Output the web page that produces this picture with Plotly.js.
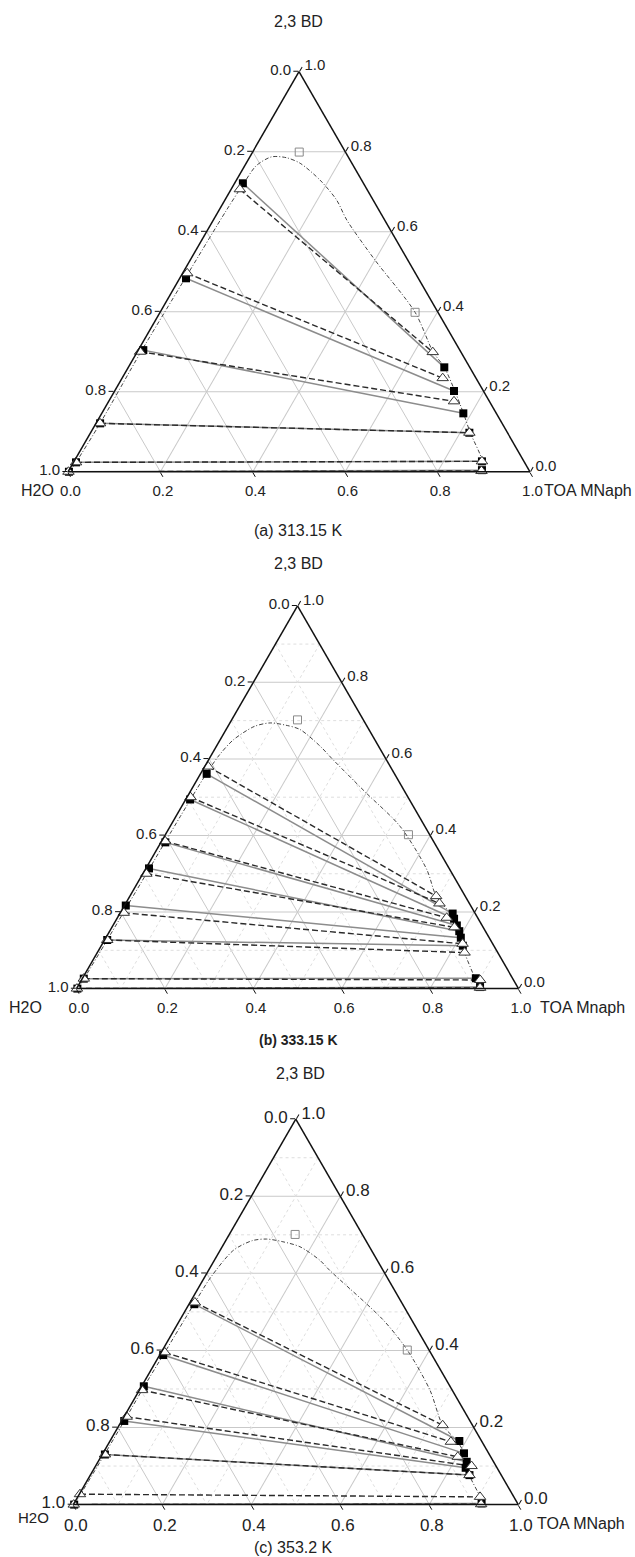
<!DOCTYPE html>
<html><head><meta charset="utf-8">
<script src="https://cdn.plot.ly/plotly-3.0.1.min.js"></script>
<style>html,body{margin:0;padding:0;background:#fff}#chart{width:635px;height:1557px}</style>
</head><body><div id="chart"></div>
<script>
// ---------- data (mass fractions: BD = 2,3-butanediol, TOA = TOA MNaph, H2O = remainder) ----------
// Tick labels
const tickVals = [0, 0.2, 0.4, 0.6, 0.8, 1.0];
const tickText = ['1.0', '0.8', '0.6', '0.4', '0.2', '0.0'];
const minorVals = [0.1, 0.3, 0.5, 0.7, 0.9];

// (a) 313.15 K
const A_binBD  = [0, 0.0235, 0.121, 0.30, 0.49, 0.65, 0.72, 0.765, 0.787, 0.785, 0.771, 0.729, 0.679, 0.629, 0.529, 0.3985, 0.30, 0.261, 0.20, 0.146, 0.0975, 0.026, 0];
const A_binTOA = [0.004, 0.0056, 0.009, 0.008, 0.012, 0.016, 0.02, 0.025, 0.047, 0.08, 0.117, 0.181, 0.242, 0.289, 0.40, 0.552, 0.64, 0.684, 0.738, 0.783, 0.822, 0.884, 0.895];
const A_expLBD  = [0.721, 0.4835, 0.304, 0.121, 0.0235, 0];
const A_expLTOA = [0.018, 0.0137, 0.011, 0.009, 0.0056, 0.002];
const A_expRBD  = [0.261, 0.2018, 0.146, 0.0975, 0.026, 0.004];
const A_expRTOA = [0.684, 0.7346, 0.7827, 0.82, 0.883, 0.894];
const A_calLBD  = [0.706, 0.496, 0.300, 0.121, 0.0235, 0];
const A_calLTOA = [0.019, 0.010, 0.006, 0.0088, 0.0056, 0.001];
const A_calRBD  = [0.299, 0.234, 0.176, 0.0975, 0.026, 0.002];
const A_calRTOA = [0.640, 0.694, 0.7475, 0.82, 0.883, 0.894];
const A_sqBD  = [0.799, 0.3985];
const A_sqTOA = [0.101, 0.552];

// (b) 333.15 K
const B_binBD  = [0, 0.026, 0.127, 0.30, 0.45, 0.56, 0.61, 0.65, 0.685, 0.694, 0.688, 0.677, 0.633, 0.599, 0.511, 0.424, 0.311, 0.2415, 0.19, 0.13, 0.094, 0.025, 0];
const B_binTOA = [0.003, 0.004, 0.006, 0.008, 0.010, 0.013, 0.018, 0.030, 0.06, 0.091, 0.13, 0.167, 0.235, 0.28, 0.40, 0.52, 0.637, 0.693, 0.755, 0.805, 0.831, 0.89, 0.913];
const B_expLBD  = [0.561, 0.494, 0.382, 0.314, 0.217, 0.127, 0.026, 0];
const B_expLTOA = [0.014, 0.010, 0.010, 0.007, 0.003, 0.006, 0.0035, 0.002];
const B_expRBD  = [0.196, 0.1825, 0.165, 0.150, 0.133, 0.112, 0.027, 0.004];
const B_expRTOA = [0.753, 0.763, 0.778, 0.791, 0.803, 0.818, 0.890, 0.911];
const B_calLBD  = [0.580, 0.50, 0.385, 0.300, 0.198, 0.127, 0.026, 0];
const B_calLTOA = [0.008, 0.008, 0.008, 0.008, 0.008, 0.006, 0.0035, 0.001];
const B_calRBD  = [0.2415, 0.2224, 0.185, 0.160, 0.117, 0.094, 0.0225, 0.002];
const B_calRTOA = [0.693, 0.710, 0.745, 0.775, 0.815, 0.831, 0.902, 0.912];
const B_sqBD  = [0.702, 0.402];
const B_sqTOA = [0.149, 0.550];

// (c) 353.2 K
const C_binBD  = [0, 0.027, 0.13, 0.22, 0.307, 0.39, 0.5245, 0.59, 0.66, 0.685, 0.689, 0.682, 0.669, 0.634, 0.608, 0.479, 0.401, 0.297, 0.206, 0.165, 0.13, 0.10, 0.0765, 0.02, 0];
const C_binTOA = [0.002, 0.003, 0.005, 0.006, 0.006, 0.008, 0.011, 0.014, 0.03, 0.06, 0.09, 0.13, 0.175, 0.237, 0.272, 0.457, 0.55, 0.653, 0.727, 0.78, 0.815, 0.838, 0.852, 0.904, 0.918];
const C_expLBD  = [0.52, 0.388, 0.307, 0.217, 0.130, 0];
const C_expLTOA = [0.012, 0.008, 0.005, 0.006, 0.006, 0.002];
const C_expRBD  = [0.165, 0.133, 0.111, 0.0955, 0.0765, 0.003];
const C_expRTOA = [0.785, 0.8115, 0.8285, 0.834, 0.852, 0.916];
const C_calLBD  = [0.5245, 0.395, 0.297, 0.228, 0.130, 0.027, 0];
const C_calLTOA = [0.011, 0.008, 0.006, 0.006, 0.006, 0.0015, 0.001];
const C_calRBD  = [0.206, 0.163, 0.124, 0.100, 0.0765, 0.020, 0.001];
const C_calRTOA = [0.727, 0.767, 0.802, 0.845, 0.852, 0.904, 0.916];
const C_sqBD  = [0.701, 0.401];
const C_sqTOA = [0.148, 0.550];

// ---------- layout helpers ----------
const W = 635, H = 1557;
const FONT = 'Liberation Sans, Arial, sans-serif';
const TXT = '#222';
const h2o = (bd, toa) => bd.map((v, i) => Math.max(0, 1 - v - toa[i]));

const panels = [
  {id: 'ternary',  cx: 299,   cy: 271.7,  w: 462, tick: 15, minor: false,
   bin: [A_binBD, A_binTOA], exp: [A_expLBD, A_expLTOA, A_expRBD, A_expRTOA],
   cal: [A_calLBD, A_calLTOA, A_calRBD, A_calRTOA], sq: [A_sqBD, A_sqTOA]},
  {id: 'ternary2', cx: 297.5, cy: 797.2,  w: 442, tick: 15, minor: true,
   bin: [B_binBD, B_binTOA], exp: [B_expLBD, B_expLTOA, B_expRBD, B_expRTOA],
   cal: [B_calLBD, B_calLTOA, B_calRBD, B_calRTOA], sq: [B_sqBD, B_sqTOA]},
  {id: 'ternary3', cx: 295.8, cy: 1311.9, w: 445, tick: 17, minor: true,
   bin: [C_binBD, C_binTOA], exp: [C_expLBD, C_expLTOA, C_expRBD, C_expRTOA],
   cal: [C_calLBD, C_calLTOA, C_calRBD, C_calRTOA], sq: [C_sqBD, C_sqTOA]}
];

const traces = [];
const layout = {
  width: W, height: H, showlegend: false,
  margin: {l: 0, r: 0, t: 0, b: 0},
  paper_bgcolor: '#fff',
  font: {family: FONT, color: TXT},
  annotations: []
};

function axis(size) {
  return {
    tickmode: 'array', tickvals: tickVals, ticktext: tickText,
    ticks: 'outside', ticklen: 5, tickwidth: 1, tickcolor: '#111',
    showline: true, linecolor: '#111', linewidth: 1.5,
    showgrid: true, gridcolor: '#c9c9c9', gridwidth: 1,
    tickfont: {family: FONT, size: size, color: TXT},
    title: {text: ''}, min: 0
  };
}

panels.forEach(p => {
  const h = p.w * Math.sqrt(3) / 2;
  layout[p.id] = {
    domain: {x: [(p.cx - p.w / 2) / W, (p.cx + p.w / 2) / W],
             y: [1 - (p.cy + h / 2 + 20) / H, 1 - (p.cy - h / 2 - 20) / H]},
    sum: 1, bgcolor: '#fff',
    aaxis: axis(p.tick), baxis: axis(p.tick), caxis: axis(p.tick)
  };

  // minor dotted grid (panels b and c)
  if (p.minor) {
    const a = [], b = [], c = [];
    minorVals.forEach(v => {
      a.push(v, v, null);       b.push(1 - v, 0, null);   c.push(0, 1 - v, null);
      a.push(1 - v, 0, null);   b.push(v, v, null);       c.push(0, 1 - v, null);
      a.push(1 - v, 0, null);   b.push(0, 1 - v, null);   c.push(v, v, null);
    });
    traces.push({type: 'scatterternary', subplot: p.id, mode: 'lines', a: a, b: b, c: c,
      line: {color: '#dedede', width: 1, dash: 'dot'}, hoverinfo: 'skip', cliponaxis: false});
  }

  // binodal curve
  traces.push({type: 'scatterternary', subplot: p.id, mode: 'lines',
    a: p.bin[0], c: p.bin[1], b: h2o(p.bin[0], p.bin[1]),
    line: {color: '#444', width: 1, dash: '4px,2px,1px,2px', shape: 'spline', smoothing: 0.8},
    hoverinfo: 'skip', cliponaxis: false});

  // tie lines: experimental (solid grey) and calculated (dashed dark)
  const tie = (src, style) => {
    const [lbd, ltoa, rbd, rtoa] = src;
    const a = [], b = [], c = [];
    lbd.forEach((v, i) => {
      a.push(lbd[i], rbd[i], null);
      c.push(ltoa[i], rtoa[i], null);
      b.push(Math.max(0, 1 - lbd[i] - ltoa[i]), Math.max(0, 1 - rbd[i] - rtoa[i]), null);
    });
    traces.push({type: 'scatterternary', subplot: p.id, mode: 'lines', a: a, b: b, c: c,
      line: style, hoverinfo: 'skip', cliponaxis: false});
  };
  tie(p.exp, {color: '#8c8c8c', width: 1.5});
  tie(p.cal, {color: '#2a2a2a', width: 1.4, dash: '6px,3px'});

  const ends = (src) => {
    const [lbd, ltoa, rbd, rtoa] = src;
    const a = lbd.concat(rbd), c = ltoa.concat(rtoa);
    return {a: a, c: c, b: h2o(a, c)};
  };
  const e = ends(p.exp), k = ends(p.cal);
  traces.push({type: 'scatterternary', subplot: p.id, mode: 'markers', a: e.a, b: e.b, c: e.c,
    marker: {symbol: 'square', size: 8, color: '#000'}, hoverinfo: 'skip', cliponaxis: false});
  traces.push({type: 'scatterternary', subplot: p.id, mode: 'markers', a: k.a, b: k.b, c: k.c,
    marker: {symbol: 'triangle-up', size: 10, color: '#fff', line: {color: '#333', width: 1}},
    hoverinfo: 'skip', cliponaxis: false});
  traces.push({type: 'scatterternary', subplot: p.id, mode: 'markers',
    a: p.sq[0], c: p.sq[1], b: h2o(p.sq[0], p.sq[1]),
    marker: {symbol: 'square-open', size: 8, color: '#8a8a8a', line: {width: 1}},
    hoverinfo: 'skip', cliponaxis: false});
});

// text labels (paper coordinates from pixel positions)
const ann = (text, px, py, size, xanchor, bold) => layout.annotations.push({
  text: bold ? '<b>' + text + '</b>' : text, xref: 'paper', yref: 'paper',
  x: px / W, y: 1 - py / H, xanchor: xanchor || 'center', yanchor: 'middle',
  showarrow: false, font: {family: FONT, size: size, color: TXT}
});
ann('2,3 BD', 298, 21, 16);
ann('H2O', 56, 490, 16, 'right');
ann('TOA MNaph', 542, 490, 16, 'left');
ann('(a) 313.15 K', 298, 530, 16);

ann('2,3 BD', 298, 563, 16);
ann('H2O', 44, 1007, 16, 'right');
ann('TOA Mnaph', 538, 1007, 16, 'left');
ann('(b) 333.15 K', 298, 1040, 14, 'center', true);

ann('2,3 BD', 300, 1073, 16);
ann('H2O', 51, 1517, 15, 'right');
ann('TOA MNaph', 535, 1523, 16, 'left');
ann('(c) 353.2 K', 293, 1547, 16);

Plotly.newPlot('chart', traces, layout, {staticPlot: true, displayModeBar: false});
</script></body></html>
